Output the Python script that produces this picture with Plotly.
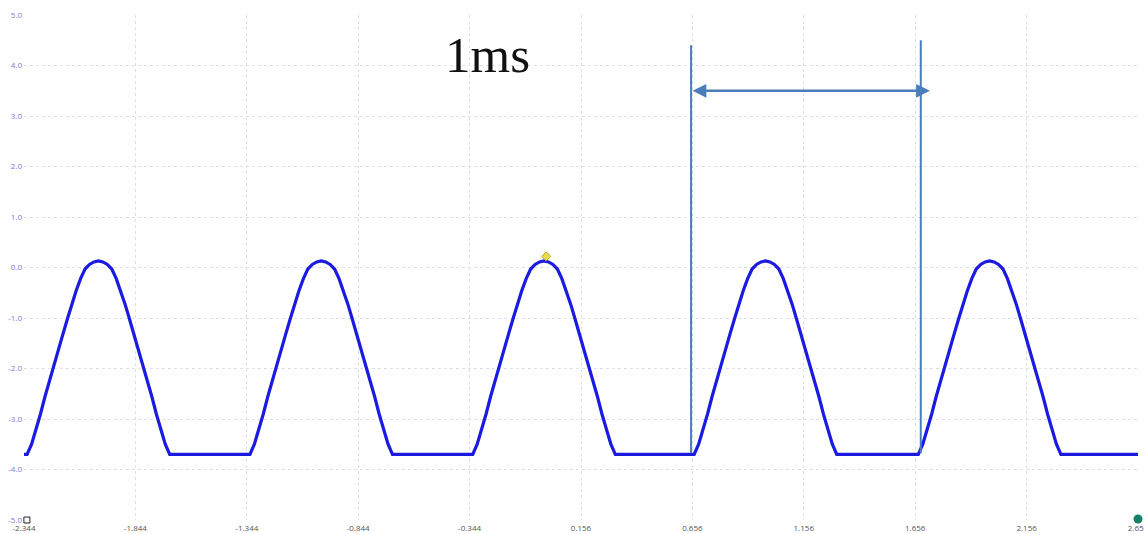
import plotly.graph_objects as go

# ---- data (time in ms, voltage in V) ----
# one pulse shape (V), sampled every 0.02 ms from 0.32 ms before to 0.32 ms after each peak
pulse_volts = [-3.70, -3.50, -3.22, -2.90, -2.56, -2.24, -1.93, -1.63, -1.33, -1.03, -0.73,
               -0.46, -0.22, -0.03, 0.06, 0.11, 0.13, 0.11, 0.06, -0.03, -0.22, -0.46,
               -0.73, -1.03, -1.33, -1.63, -1.93, -2.24, -2.56, -2.90, -3.22, -3.50, -3.70]

pulse1_t = [-2.330, -2.310, -2.290, -2.270, -2.250, -2.230, -2.210, -2.190, -2.170, -2.150, -2.130,
            -2.110, -2.090, -2.070, -2.050, -2.030, -2.010, -1.990, -1.970, -1.950, -1.930, -1.910,
            -1.890, -1.870, -1.850, -1.830, -1.810, -1.790, -1.770, -1.750, -1.730, -1.710, -1.690]
pulse2_t = [-1.330, -1.310, -1.290, -1.270, -1.250, -1.230, -1.210, -1.190, -1.170, -1.150, -1.130,
            -1.110, -1.090, -1.070, -1.050, -1.030, -1.010, -0.990, -0.970, -0.950, -0.930, -0.910,
            -0.890, -0.870, -0.850, -0.830, -0.810, -0.790, -0.770, -0.750, -0.730, -0.710, -0.690]
pulse3_t = [-0.330, -0.310, -0.290, -0.270, -0.250, -0.230, -0.210, -0.190, -0.170, -0.150, -0.130,
            -0.110, -0.090, -0.070, -0.050, -0.030, -0.010, 0.010, 0.030, 0.050, 0.070, 0.090,
            0.110, 0.130, 0.150, 0.170, 0.190, 0.210, 0.230, 0.250, 0.270, 0.290, 0.310]
pulse4_t = [0.664, 0.684, 0.704, 0.724, 0.744, 0.764, 0.784, 0.804, 0.824, 0.844, 0.864,
            0.884, 0.904, 0.924, 0.944, 0.964, 0.984, 1.004, 1.024, 1.044, 1.064, 1.084,
            1.104, 1.124, 1.144, 1.164, 1.184, 1.204, 1.224, 1.244, 1.264, 1.284, 1.304]
pulse5_t = [1.670, 1.690, 1.710, 1.730, 1.750, 1.770, 1.790, 1.810, 1.830, 1.850, 1.870,
            1.890, 1.910, 1.930, 1.950, 1.970, 1.990, 2.010, 2.030, 2.050, 2.070, 2.090,
            2.110, 2.130, 2.150, 2.170, 2.190, 2.210, 2.230, 2.250, 2.270, 2.290, 2.310]

start_t, start_v = [-2.344], [-3.70]
end_t, end_v = [2.656], [-3.70]

x_tick_vals = [-2.344, -1.844, -1.344, -0.844, -0.344, 0.156, 0.656, 1.156, 1.656, 2.156, 2.656]
x_tick_text = ["-2.344", "-1.844", "-1.344", "-0.844", "-0.344", "0.156", "0.656", "1.156", "1.656", "2.156", "2.656"]
y_tick_vals = [5, 4, 3, 2, 1, 0, -1, -2, -3, -4, -5]
y_tick_text = ["5.0", "4.0", "3.0", "2.0", "1.0", "0.0", "-1.0", "-2.0", "-3.0", "-4.0", "-5.0"]

# cursor / measurement annotation (ms, V)
cursor_left_t = 0.650
cursor_right_t = 1.681
cursor_left_top = 4.40
cursor_right_top = 4.50
cursor_bottom = -3.68
arrow_y = 3.5
arrow_tip_right = 1.722
label_text = "1ms"
label_t = -0.262
label_v = 4.21

trigger_t = [0.0]
trigger_v = [0.22]

time_ms = start_t + pulse1_t + pulse2_t + pulse3_t + pulse4_t + pulse5_t + end_t
volts = start_v + pulse_volts * 5 + end_v

fig = go.Figure()

fig.add_trace(go.Scatter(
    x=time_ms, y=volts, mode="lines",
    line=dict(color="#1a1ae0", width=3.2),
    hoverinfo="skip", showlegend=False,
))

fig.add_trace(go.Scatter(
    x=trigger_t, y=trigger_v, mode="markers",
    marker=dict(symbol="diamond", size=7, color="#e8dc50", line=dict(color="#b8a820", width=1)),
    showlegend=False, hoverinfo="skip",
))

fig.add_trace(go.Scatter(
    x=[-2.331], y=[-5.0], mode="markers",
    marker=dict(symbol="square-open", size=6, color="#222222", line=dict(width=1)),
    cliponaxis=False, showlegend=False, hoverinfo="skip",
))
fig.add_trace(go.Scatter(
    x=[2.656], y=[-4.98], mode="markers",
    marker=dict(symbol="circle", size=9, color="#17806d"),
    cliponaxis=False, showlegend=False, hoverinfo="skip",
))

line_color = "#4a7ebb"
fig.add_shape(type="line", xref="x", yref="y",
              x0=cursor_left_t, x1=cursor_left_t, y0=cursor_bottom, y1=cursor_left_top,
              line=dict(color=line_color, width=2))
fig.add_shape(type="line", xref="x", yref="y",
              x0=cursor_right_t, x1=cursor_right_t, y0=cursor_bottom, y1=cursor_right_top,
              line=dict(color=line_color, width=2))

fig.add_annotation(
    x=arrow_tip_right, y=arrow_y, ax=cursor_left_t, ay=arrow_y,
    xref="x", yref="y", axref="x", ayref="y",
    text="", showarrow=True, arrowside="end+start",
    arrowhead=2, startarrowhead=2, arrowsize=1.1, startarrowsize=1.1,
    arrowwidth=2.5, arrowcolor=line_color, standoff=0, startstandoff=0,
)

fig.add_annotation(
    x=label_t, y=label_v, xref="x", yref="y", text=label_text, showarrow=False,
    font=dict(family="Liberation Serif, Times New Roman, serif", size=51, color="#111111"),
    xanchor="center", yanchor="middle",
)

fig.add_annotation(
    x=-2.362, y=4.78, xref="x", yref="y", text="V", showarrow=False,
    font=dict(family="Open Sans, sans-serif", size=8, color="#7b7bd8"),
    xanchor="center", yanchor="middle",
)

fig.update_xaxes(
    range=[-2.344, 2.656], tickvals=x_tick_vals, ticktext=x_tick_text,
    showgrid=True, gridcolor="#dbe1ea", griddash="dot", gridwidth=1,
    zeroline=False, showline=False, ticks="", automargin=False,
    tickfont=dict(family="Open Sans, sans-serif", size=8, color="#555555"),
    ticklabeloverflow="allow", ticklabelstandoff=2,
)
fig.update_yaxes(
    range=[-5, 5], tickvals=y_tick_vals, ticktext=y_tick_text,
    showgrid=True, gridcolor="#dbe1ea", griddash="dot", gridwidth=1,
    zeroline=False, showline=False, ticks="", automargin=False,
    tickfont=dict(family="Open Sans, sans-serif", size=8, color="#7b7bd8"),
    ticklabeloverflow="allow", ticklabelstandoff=1,
)

fig.update_layout(
    width=1144, height=534,
    margin=dict(l=24, r=6, t=15, b=14, pad=0, autoexpand=False),
    paper_bgcolor="white", plot_bgcolor="white",
    showlegend=False,
)

fig.write_html("out.html")
